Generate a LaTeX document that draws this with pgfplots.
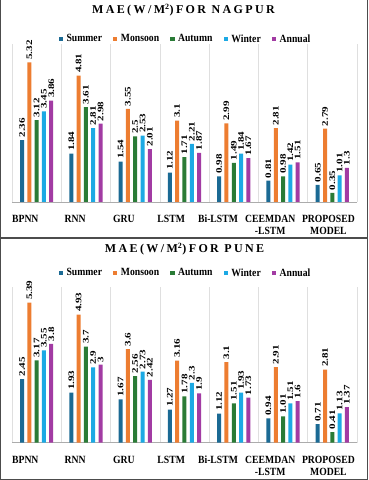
\documentclass[border=0pt]{standalone}
\usepackage{fontspec}
\usepackage{pgfplots}
\pgfplotsset{compat=1.18}
\setmainfont{Liberation Serif}
\newfontfamily\lblfont[FakeStretch=0.88]{Liberation Serif}
\newfontfamily\valfont[FakeStretch=1.3]{Liberation Serif}
\newfontfamily\ttlfont[LetterSpace=20]{Liberation Serif}

\definecolor{cSummer}{HTML}{1B6A94}
\definecolor{cMonsoon}{HTML}{ED7D31}
\definecolor{cAutumn}{HTML}{2A7B36}
\definecolor{cWinter}{HTML}{1CA9E4}
\definecolor{cAnnual}{HTML}{A23BA3}

\pgfplotsset{
  maefig/.style={
    ybar=3.3pt, bar width=4pt,
    scale only axis, width=345pt,
    xmin=-0.5, xmax=6.5, ymin=0, ymax=6,
    axis x line*=bottom, axis y line=none,
    x axis line style={gray!65, -},
    xtick={-0.23,0.78,1.77,2.73,3.68,4.74,5.92},
    xticklabels={BPNN,RNN,GRU,LSTM,Bi-LSTM,{CEEMDAN\\-LSTM},{PROPOSED\\MODEL}},
    major tick length=0pt,
    minor xtick={-0.5,0.5,...,6.5}, minor tick length=0pt,
    xminorgrids, minor grid style={gray!25, line width=0.6pt},
    xticklabel style={anchor=north, align=center, inner sep=0pt, yshift=-13pt,
      font=\lblfont\bfseries\fontsize{11}{12.5}\selectfont},
    clip=false,
    /pgf/number format/assume math mode=true,
    nodes near coords,
    every node near coord/.append style={rotate=90, anchor=west, inner sep=2.5pt,
      text=black, font=\valfont\bfseries\fontsize{8.5}{9}\selectfont},
    legend columns=5,
    legend style={draw=none, fill=none, anchor=center, inner sep=0pt,
      font=\lblfont\bfseries\fontsize{11}{12}\selectfont,
      /tikz/every odd column/.append style={column sep=1.5pt},
      /tikz/every even column/.append style={column sep=9pt}},
    legend image code/.code={\fill[##1] (0pt,-2.4pt) rectangle (4.4pt,2.4pt);},
    title style={anchor=center, font=\ttlfont\bfseries\fontsize{12}{13}\selectfont},
  },
}

\begin{document}
\begin{tikzpicture}
\path[use as bounding box] (0,0) rectangle (369pt,480pt);

% Nagpur
\begin{axis}[maefig, at={(12pt,278pt)}, anchor=south west, height=157.6pt,
  title={MAE(W/M\textsuperscript{2})FOR NAGPUR},
  title style={at={(0.497,1.18)}},
  legend style={at={(0.503,1.034)}}]
\addplot[fill=cSummer, draw=none] coordinates {(0,2.36) (1,1.84) (2,1.54) (3,1.12) (4,0.98) (5,0.81) (6,0.65)};
\addplot[fill=cMonsoon, draw=none] coordinates {(0,5.32) (1,4.81) (2,3.55) (3,3.1) (4,2.99) (5,2.81) (6,2.79)};
\addplot[fill=cAutumn, draw=none] coordinates {(0,3.12) (1,3.61) (2,2.5) (3,1.71) (4,1.49) (5,0.98) (6,0.35)};
\addplot[fill=cWinter, draw=none] coordinates {(0,3.45) (1,2.81) (2,2.53) (3,2.21) (4,1.84) (5,1.42) (6,1.01)};
\addplot[fill=cAnnual, draw=none] coordinates {(0,3.86) (1,2.98) (2,2.01) (3,1.87) (4,1.67) (5,1.51) (6,1.3)};
\legend{Summer,Monsoon,Autumn,Winter,Annual}
\end{axis}

% Pune
\begin{axis}[maefig, at={(12pt,37.3pt)}, anchor=south west, height=156pt,
  title={MAE(W/M\textsuperscript{2})FOR PUNE},
  title style={at={(0.5,1.203)}},
  legend style={at={(0.503,1.088)}}]
\addplot[fill=cSummer, draw=none] coordinates {(0,2.45) (1,1.93) (2,1.67) (3,1.27) (4,1.12) (5,0.94) (6,0.71)};
\addplot[fill=cMonsoon, draw=none] coordinates {(0,5.39) (1,4.93) (2,3.6) (3,3.16) (4,3.1) (5,2.91) (6,2.81)};
\addplot[fill=cAutumn, draw=none] coordinates {(0,3.17) (1,3.7) (2,2.56) (3,1.78) (4,1.51) (5,1.01) (6,0.41)};
\addplot[fill=cWinter, draw=none] coordinates {(0,3.55) (1,2.9) (2,2.73) (3,2.3) (4,1.93) (5,1.51) (6,1.13)};
\addplot[fill=cAnnual, draw=none] coordinates {(0,3.8) (1,3) (2,2.42) (3,1.9) (4,1.73) (5,1.6) (6,1.37)};
\legend{Summer,Monsoon,Autumn,Winter,Annual}
\end{axis}

% outer frame and separator
\draw[line width=1.3pt, black!70] (0.8pt,480pt) -- (0.8pt,0.8pt) -- (367.8pt,0.8pt) -- (367.8pt,480pt);
\draw[line width=1.3pt, black!70] (0.8pt,242pt) -- (367.8pt,242pt);
\end{tikzpicture}
\end{document}
